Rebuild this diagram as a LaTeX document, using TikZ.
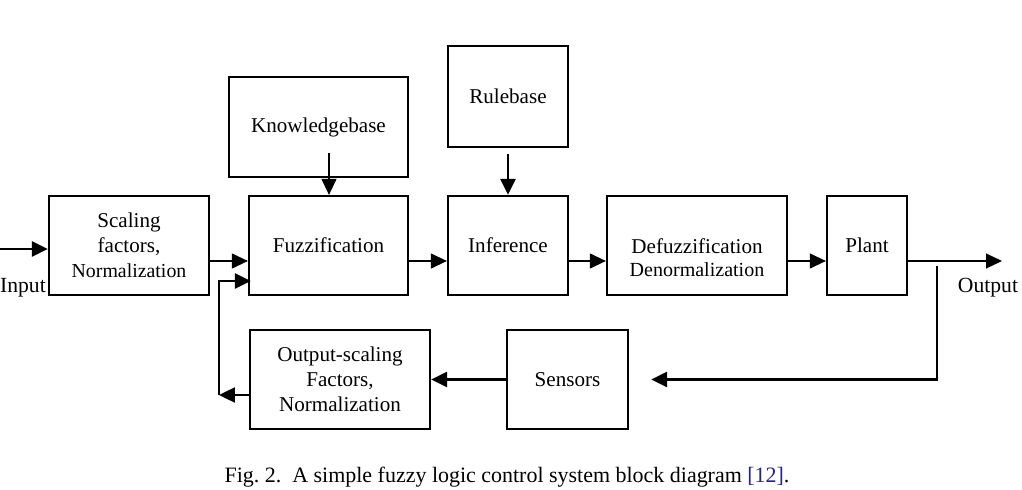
\documentclass[tikz,border=0pt]{standalone}
\usepackage{fontspec}
\setmainfont{Liberation Serif}
\usepackage{xcolor}
\usetikzlibrary{arrows.meta, positioning}
\definecolor{citeblue}{RGB}{35,35,140}
\tikzset{
    >={Triangle[length=0.32cm, width=0.3cm]}, % big filled heads
    block/.style={draw, line width=1.3pt, align=center, inner sep=0pt,
        font=\fontsize{12}{14.3}\selectfont}, % every box of the diagram
    thinarrow/.style={->, line width=0.65pt},
    thickarrow/.style={->, line width=1.4pt},
}

\begin{document}
\begin{tikzpicture}[x=0.02cm, y=-0.02cm]
        \useasboundingbox (0,0) rectangle (1022,490);
        \coordinate (row) at (0,261);

        \node[block, minimum width=3.2cm, minimum height=1.98cm] (scal) at (129,245.5)
            {Scaling\\factors,\\{\fontsize{11.3}{14.3}\selectfont Normalization}};
        \node[block, minimum width=3.18cm, minimum height=1.98cm] (fuzz) at (328.5,245.5) {Fuzzification};
        \node[block, minimum width=3.58cm, minimum height=2cm] (know) at (318.5,127) {Knowledgebase};
        \node[block, minimum width=2.4cm, minimum height=2.02cm] (rule) at (508,96.5) {Rulebase};
        \node[block, minimum width=2.4cm, minimum height=1.98cm] (infer) at (508,245.5) {Inference};
        \node[block, minimum width=3.6cm, minimum height=1.98cm] (defuz) at (697,245.5) {};
        \node[align=center, inner sep=0pt, font=\fontsize{12}{13}\selectfont] (defuztext) at (697,258)
            {Defuzzification\\{\fontsize{11.4}{13}\selectfont Denormalization}};
        \node[block, minimum width=1.6cm, minimum height=1.98cm] (plant) at (867,245.5) {Plant};
        \node[block, minimum width=2.42cm, minimum height=1.98cm] (sens) at (567.5,379.5) {Sensors};
        \node[block, minimum width=3.6cm, minimum height=1.98cm] (oscal) at (340,379.5)
            {Output-scaling\\Factors,\\Normalization};

        \node[font=\fontsize{12.3}{14}\selectfont, inner sep=0pt] (input) at (23,288) {Input};
        \node[font=\fontsize{12.3}{14}\selectfont, inner sep=0pt] (output) at (988,288) {Output};
        \coordinate (inl) at (0,249);
        \coordinate (outr) at (1002,261);
        \coordinate (fb) at (937,266);
        \coordinate (loop) at (219,395);
        \coordinate (kstart) at (329,153);

        \draw[thickarrow] (inl) -- (scal.west |- inl);
        \draw[thinarrow] (scal.east |- row) -- (fuzz.west |- row);
        \draw[thinarrow] (fuzz.east |- row) -- (infer.west |- row);
        \draw[thinarrow] (infer.east |- row) -- (defuz.west |- row);
        \draw[thinarrow] (defuz.east |- row) -- (plant.west |- row);
        \draw[thinarrow] (plant.east |- row) -- (outr);
        \draw[thinarrow] (kstart) -- (kstart |- fuzz.north);
        \draw[thickarrow] ([yshift=-0.12cm]rule.south) -- (infer.north);

        \draw[thickarrow, shorten >=0.44cm] (fb) |- (sens.east);
        \draw[thickarrow] (sens.west) -- (oscal.east);
        \draw[thickarrow] (oscal.west |- loop) -- (loop);
        \draw[thickarrow, shorten >=-0.06cm] (loop) |- (fuzz.west |- 0,281);

        \node[font=\fontsize{12.5}{14}\selectfont, inner sep=0pt] (caption) at (507,477)
            {Fig.~2.\ \ A simple fuzzy logic control system block diagram \textcolor{citeblue}{[12]}.};
    \end{tikzpicture}
\end{document}
